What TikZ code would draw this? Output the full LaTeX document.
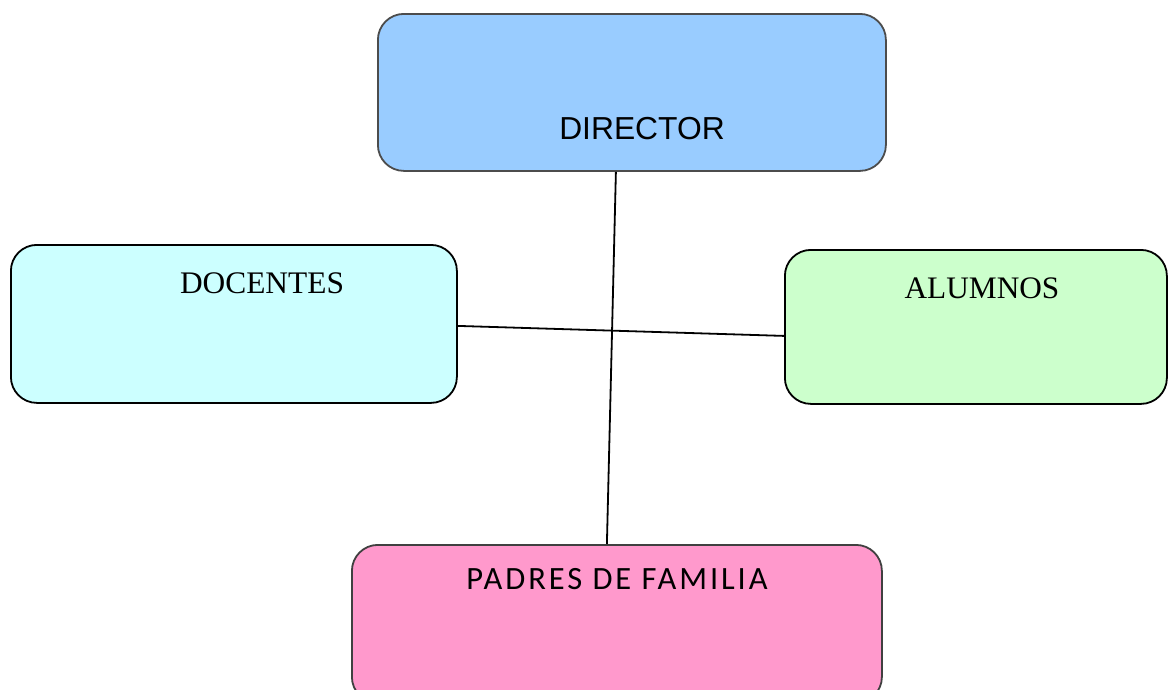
\documentclass[tikz,border=0pt]{standalone}
\usepackage{fontspec}
\setmainfont{Liberation Serif}
\newfontfamily\arialf{Liberation Sans}
\newfontfamily\calibf[LetterSpace=9]{Carlito}
\begin{document}
\begin{tikzpicture}[x=1pt,y=-1pt,
  box/.style={draw, rounded corners=26pt, line width=1.8pt, inner sep=0pt, anchor=north west},
  lbl/.style={anchor=base, inner sep=0pt},
  conn/.style={line width=1.8pt, black}]
\definecolor{cdir}{HTML}{99CCFF}
\definecolor{cdoc}{HTML}{CCFFFF}
\definecolor{calu}{HTML}{CCFFCC}
\definecolor{cpad}{HTML}{FF99CC}
\useasboundingbox (0,0) rectangle (1168,689);
\clip (0,0) rectangle (1168,689);
\node[box, fill=cdir, draw=black!70, minimum width=508pt, minimum height=157pt] (dir) at (377,13) {};
\node[box, fill=cdoc, minimum width=446pt, minimum height=158pt] (doc) at (10,244) {};
\node[box, fill=calu, minimum width=382pt, minimum height=154pt] (alu) at (784,249) {};
\node[box, fill=cpad, draw=black!75, minimum width=530pt, minimum height=158pt] (pad) at (351,544) {};
\node[lbl, font={\arialf\fontsize{31.8}{37}\selectfont}] (tdir) at (642,139) {DIRECTOR};
\node[lbl, font={\fontsize{31.4}{37}\selectfont}] (tdoc) at (262,293) {DOCENTES};
\node[lbl, font={\fontsize{31.3}{37}\selectfont}] (talu) at (982,298) {ALUMNOS};
\node[lbl, font={\calibf\fontsize{32.5}{40}\selectfont}] (tpad) at (617,589) {PADRES DE FAMILIA};
\draw[conn] ([xshift=-16pt]dir.south) -- ([xshift=-10pt]pad.north);
\draw[conn] ([yshift=-2pt]doc.east) -- ([yshift=-9pt]alu.west);
\end{tikzpicture}
\end{document}
